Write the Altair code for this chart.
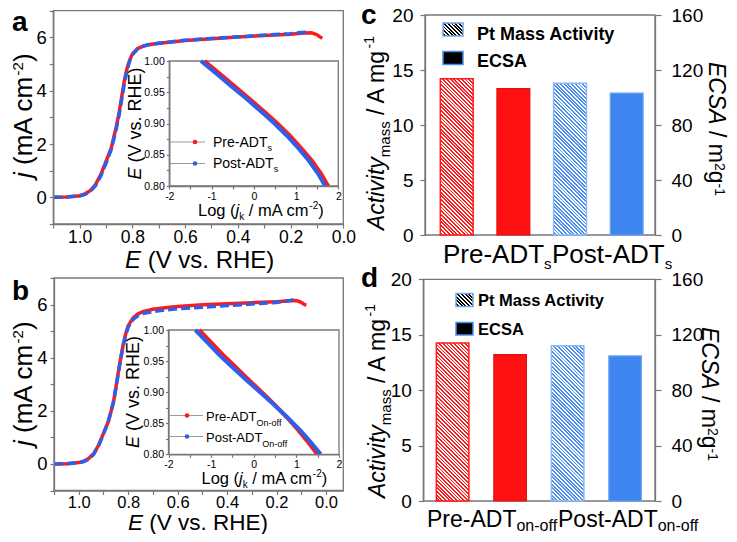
import altair as alt
import pandas as pd

# ---------------- data ----------------
E_A_PRE = [1.10, 1.05, 1.00, 0.98, 0.96, 0.94, 0.92, 0.90, 0.88, 0.86, 0.85, 0.84, 0.83, 0.82, 0.81, 0.80,
           0.78, 0.76, 0.74, 0.70, 0.65, 0.60, 0.50, 0.40, 0.30, 0.20, 0.15, 0.12, 0.10, 0.09, 0.08]
J_A_PRE = [0.00, 0.01, 0.06, 0.13, 0.25, 0.48, 0.85, 1.35, 1.85, 2.70, 3.20, 3.80, 4.40, 4.85, 5.15, 5.38,
           5.58, 5.67, 5.72, 5.78, 5.83, 5.88, 5.95, 6.01, 6.07, 6.12, 6.16, 6.17, 6.10, 6.03, 5.96]
E_A_POST = [1.10, 1.05, 1.00, 0.98, 0.96, 0.94, 0.92, 0.90, 0.88, 0.86, 0.85, 0.84, 0.83, 0.82, 0.81, 0.80,
            0.78, 0.76, 0.74, 0.70, 0.65, 0.60, 0.50, 0.40, 0.30, 0.20, 0.16, 0.13]
J_A_POST = [0.00, 0.01, 0.05, 0.11, 0.22, 0.44, 0.80, 1.28, 1.80, 2.62, 3.12, 3.70, 4.30, 4.78, 5.12, 5.35,
            5.57, 5.66, 5.72, 5.78, 5.84, 5.89, 5.96, 6.02, 6.08, 6.14, 6.18, 6.20]
E_B_PRE = [1.10, 1.05, 1.00, 0.98, 0.96, 0.94, 0.92, 0.90, 0.88, 0.86, 0.85, 0.84, 0.83, 0.82, 0.81, 0.80,
           0.78, 0.76, 0.74, 0.70, 0.65, 0.60, 0.50, 0.40, 0.30, 0.20, 0.15, 0.12, 0.10, 0.09, 0.08]
J_B_PRE = [0.00, 0.01, 0.05, 0.10, 0.20, 0.38, 0.70, 1.15, 1.60, 2.30, 2.85, 3.45, 4.00, 4.50, 4.90, 5.20,
           5.50, 5.65, 5.73, 5.82, 5.88, 5.93, 5.99, 6.03, 6.07, 6.11, 6.14, 6.15, 6.08, 6.02, 5.97]
E_B_POST = [1.10, 1.05, 1.00, 0.98, 0.96, 0.94, 0.92, 0.90, 0.88, 0.86, 0.85, 0.84, 0.83, 0.82, 0.81, 0.80,
            0.78, 0.76, 0.74, 0.70, 0.65, 0.60, 0.50, 0.40, 0.30, 0.20, 0.15, 0.13, 0.12]
J_B_POST = [0.00, 0.01, 0.04, 0.09, 0.18, 0.36, 0.68, 1.12, 1.62, 2.32, 2.85, 3.40, 3.95, 4.45, 4.85, 5.15,
            5.44, 5.58, 5.66, 5.74, 5.80, 5.84, 5.90, 5.96, 6.02, 6.08, 6.14, 6.19, 6.22]

E_K = [1.00, 0.98, 0.96, 0.94, 0.92, 0.90, 0.88, 0.86, 0.84, 0.82, 0.80]
LOG_A_PRE = [-1.17, -0.81, -0.46, -0.11, 0.23, 0.56, 0.86, 1.13, 1.38, 1.59, 1.76]
LOG_A_POST = [-1.25, -0.89, -0.54, -0.18, 0.16, 0.49, 0.79, 1.06, 1.31, 1.52, 1.69]
LOG_B_PRE = [-1.28, -1.00, -0.72, -0.42, -0.12, 0.19, 0.49, 0.77, 1.03, 1.27, 1.49]
LOG_B_POST = [-1.37, -1.09, -0.81, -0.50, -0.18, 0.15, 0.47, 0.78, 1.07, 1.33, 1.57]

CATS = ["Pre-ADT", "Post-ADT"]
ACT_C = [14.2, 13.8]
ECSA_C = [106.4, 103.2]
ACT_D = [14.25, 14.0]
ECSA_D = [105.6, 104.7]

# ---------------- styling / layout ----------------
FONT = "Liberation Sans"
GRAY = "#777777"
RED = "#ff1a1a"
BLUE = "#2f5fe8"
BAR_RED = "#ff1111"
BAR_BLUE = "#3f85f0"
HATCH_BLUE = "#4b8cf0"
W, H = 721, 526


def px(v):
    return round(v - 8, 2)


def py(v):
    return round(v - 8, 2)


def sc(domain, rng):
    return alt.Scale(domain=domain, range=rng, nice=False, zero=False)


def mk_axis(orient, offset, values, expr, fsize, tick, pad):
    return alt.Axis(orient=orient, offset=offset, values=values, labelExpr=expr, title="",
                    tickSize=tick, tickWidth=1.2, tickColor=GRAY, domainColor=GRAY, domainWidth=1.3,
                    labelFont=FONT, labelFontSize=fsize, labelColor="black", labelPadding=pad,
                    labelFlush=False, labelOverlap=False, labelBound=False, grid=False, zindex=1)


def frame(x0, x1, y0, y1, xs, ys, axx, axy, fill=""):
    df = pd.DataFrame({"x0": [x0], "x1": [x1], "y0": [y0], "y1": [y1]})
    mk = dict(stroke=GRAY, strokeWidth=1.3)
    if fill:
        mk["fill"] = fill
    else:
        mk["fillOpacity"] = 0
    return alt.Chart(df).mark_rect(**mk).encode(
        x=alt.X("x0:Q", scale=xs, axis=axx), x2="x1:Q",
        y=alt.Y("y0:Q", scale=ys, axis=axy), y2="y1:Q")


def line(xs_vals, ys_vals, xs, ys, color, width, dash=None):
    df = pd.DataFrame({"x": xs_vals, "y": ys_vals})
    mk = dict(color=color, strokeWidth=width)
    if dash:
        mk["strokeDash"] = dash
    return alt.Chart(df).mark_line(**mk).encode(
        x=alt.X("x:Q", scale=xs, axis=None), y=alt.Y("y:Q", scale=ys, axis=None))


def hatch(w, h, color, bg="white", period=2.6):
    a = w / h
    t = (a + 1) / (a * a + 1)
    n = max(2, int(round((w + h) / 2 ** 0.5 / period)))
    stops = []
    for i in range(n):
        o0, o1, o2 = round(i / n, 5), round((i + 0.5) / n, 5), round((i + 1) / n, 5)
        stops += [{"offset": o0, "color": color}, {"offset": o1, "color": color},
                  {"offset": o1, "color": bg}, {"offset": o2, "color": bg}]
    return {"gradient": "linear", "x1": 1, "y1": 0, "x2": round(1 - a * t, 4), "y2": round(t, 4),
            "stops": stops}


layers = []

# ---------------- panels a and b (line charts with insets) ----------------
E_TICKS = [round(0.1 * i, 1) for i in range(12)]
E_EXPR = "round(datum.value*10) % 2 == 0 ? format(datum.value, '.1f') : ''"
J_EXPR = "datum.value % 2 == 0 ? '' + datum.value : ''"
LX_TICKS = [-2, -1.5, -1, -0.5, 0, 0.5, 1, 1.5, 2]
LX_EXPR = "datum.value % 1 == 0 ? '' + datum.value : ''"
LY_TICKS = [0.8, 0.825, 0.85, 0.875, 0.9, 0.925, 0.95, 0.975, 1.0]
LY_EXPR = "round(datum.value*1000) % 50 == 0 ? format(datum.value, '.2f') : ''"

panels = [
    dict(xpx=(53.3, 343.3), xdom=[0.0, 1.1], ypx=(224, 10.7), ixpx=(169.3, 338.3), iypx=(186, 61), lpad=0,
         lfs=17.5, pre=(E_A_PRE, J_A_PRE), post=(E_A_POST, J_A_POST), kpre=LOG_A_PRE, kpost=LOG_A_POST),
    dict(xpx=(54, 343.3), xdom=[-0.07, 1.1], ypx=(490.5, 278), ixpx=(168.5, 339), iypx=(454.3, 330), lpad=0,
         lfs=16.5, pre=(E_B_PRE, J_B_PRE), post=(E_B_POST, J_B_POST), kpre=LOG_B_PRE, kpost=LOG_B_POST),
]

for p in panels:
    xs = sc(p["xdom"], [px(p["xpx"][1]), px(p["xpx"][0])])
    ys = sc([-1, 7], [py(p["ypx"][0]), py(p["ypx"][1])])
    axx = mk_axis("bottom", py(p["ypx"][0]) - H, E_TICKS, E_EXPR, p["lfs"], 4, p["lpad"])
    axy = mk_axis("left", -px(p["xpx"][0]), list(range(-1, 8)), J_EXPR, 18.5, 4, 3)
    layers.append(frame(p["xdom"][0], p["xdom"][1], -1, 7, xs, ys, axx, axy))
    layers.append(line(p["pre"][0], p["pre"][1], xs, ys, RED, 3.5))
    layers.append(line(p["post"][0], p["post"][1], xs, ys, BLUE, 3.5, [9, 4]))

    ixs = sc([-2, 2], [px(p["ixpx"][0]), px(p["ixpx"][1])])
    iys = sc([0.8, 1.0], [py(p["iypx"][0]), py(p["iypx"][1])])
    iax = mk_axis("bottom", py(p["iypx"][0]) - H, LX_TICKS, LX_EXPR, 10.5, 3, 2)
    iay = mk_axis("left", -px(p["ixpx"][0]), LY_TICKS, LY_EXPR, 10.5, 3, 2)
    layers.append(frame(-2, 2, 0.8, 1.0, ixs, iys, iax, iay, fill="white"))
    layers.append(line(p["kpre"], E_K, ixs, iys, RED, 4))
    layers.append(line(p["kpost"], E_K, ixs, iys, BLUE, 4))

# inset legend lines and dots (pixel positions)
leg_lines = pd.DataFrame({
    "x0": [px(170), px(170), px(170), px(170)],
    "x1": [px(205), px(205), px(203), px(203)],
    "y": [py(142), py(163.5), py(415.5), py(436.5)],
})
leg_dots = pd.DataFrame({
    "x": [px(195), px(195), px(187), px(187)],
    "y": [py(142), py(163.5), py(415.5), py(436.5)],
    "c": [RED, BLUE, RED, BLUE],
})
layers.append(alt.Chart(leg_lines).mark_rule(color="#9a9a9a", strokeWidth=1.2).encode(
    x=alt.X("x0:Q", scale=None, axis=None), x2="x1:Q", y=alt.Y("y:Q", scale=None, axis=None)))
layers.append(alt.Chart(leg_dots).mark_circle(size=22, opacity=1).encode(
    x=alt.X("x:Q", scale=None, axis=None), y=alt.Y("y:Q", scale=None, axis=None),
    color=alt.Color("c:N", scale=None, legend=None)))

# ---------------- panels c and d (bar charts) ----------------
bars = [
    dict(xpx=(425, 655), xdom=[0.44, 4.5], ypx=(235, 15), act=ACT_C, ecsa=ECSA_C, half=0.29),
    dict(xpx=(423.3, 655), xdom=[0.49, 4.52], ypx=(501, 279.3), act=ACT_D, ecsa=ECSA_D, half=0.283),
]
for b in bars:
    xs = sc(b["xdom"], [px(b["xpx"][0]), px(b["xpx"][1])])
    yl = sc([0, 20], [py(b["ypx"][0]), py(b["ypx"][1])])
    yr = sc([0, 160], [py(b["ypx"][0]), py(b["ypx"][1])])
    axl = mk_axis("left", -px(b["xpx"][0]), [0, 5, 10, 15, 20], "datum.label", 19, 5, 7)
    axr = mk_axis("right", px(b["xpx"][1]) - W, [0, 40, 80, 120, 160], "datum.label", 19, 6, 10)
    layers.append(frame(b["xdom"][0], b["xdom"][1], 0, 20, xs, yl, None, axl))
    ppx = (b["xpx"][1] - b["xpx"][0]) / (b["xdom"][1] - b["xdom"][0])
    ppy = (b["ypx"][0] - b["ypx"][1]) / 20.0
    hatch_cols = [(RED, RED), (HATCH_BLUE, "#8ab8f5")]
    for k, cat in enumerate(CATS):
        slot = 1 + 2 * k
        df = pd.DataFrame({"lo": [slot - b["half"]], "hi": [slot + b["half"]], "v": [b["act"][k]], "z": [0]})
        grad = hatch(2 * b["half"] * ppx, b["act"][k] * ppy, hatch_cols[k][0])
        layers.append(alt.Chart(df).mark_rect(fill=grad, stroke=hatch_cols[k][1], strokeWidth=1.5).encode(
            x=alt.X("lo:Q", scale=xs, axis=None), x2="hi:Q",
            y=alt.Y("v:Q", scale=yl, axis=None), y2="z:Q"))
    sdf = pd.DataFrame({"lo": [2 - b["half"], 4 - b["half"]], "hi": [2 + b["half"], 4 + b["half"]],
                        "v": b["ecsa"], "z": [0, 0], "c": [BAR_RED, BAR_BLUE], "s": ["#e01010", "#6aa3f3"]})
    layers.append(alt.Chart(sdf).mark_rect(strokeWidth=1.2).encode(
        x=alt.X("lo:Q", scale=xs, axis=None), x2="hi:Q",
        y=alt.Y("v:Q", scale=yr, axis=axr), y2="z:Q",
        fill=alt.Color("c:N", scale=None, legend=None),
        stroke=alt.Stroke("s:N", scale=None, legend=None)))

# legend swatches for c and d (pixel positions)
sw = [(443, 463, 23, 36, "h"), (443, 463, 51.5, 64.5, "s"),
      (456, 473, 293.5, 306.5, "h"), (456, 473, 322.5, 335, "s")]
for x0, x1, y0, y1, kind in sw:
    df = pd.DataFrame({"x0": [px(x0)], "x1": [px(x1)], "y0": [py(y0)], "y1": [py(y1)]})
    if kind == "h":
        mk = dict(fill=hatch(x1 - x0, y1 - y0, "black", period=2.6), stroke="#6fa8f0", strokeWidth=1.5)
    else:
        mk = dict(fill="black", stroke="#4a8ef0", strokeWidth=1.5)
    layers.append(alt.Chart(df).mark_rect(**mk).encode(
        x=alt.X("x0:Q", scale=None, axis=None), x2="x1:Q",
        y=alt.Y("y0:Q", scale=None, axis=None), y2="y1:Q"))

# ---------------- text (rich text built from segments) ----------------
REG = {' ': 278, '(': 333, ')': 333, '-': 333, '.': 278, '/': 278, 'A': 667, 'C': 722, 'D': 722,
       'E': 667, 'H': 722, 'L': 556, 'M': 833, 'P': 667, 'R': 722, 'S': 667, 'T': 611, 'V': 667,
       'a': 556, 'c': 500, 'e': 556, 'f': 278, 'g': 556, 'i': 222, 'j': 222, 'k': 500, 'm': 833,
       'n': 556, 'o': 556, 'r': 333, 's': 500, 't': 278, 'v': 500, 'y': 500}
BOLD = {' ': 278, 'A': 722, 'C': 722, 'E': 667, 'M': 833, 'P': 667, 'S': 667, 'a': 556, 'c': 556,
        'i': 278, 's': 556, 't': 333, 'v': 556, 'y': 556, 'b': 611, 'd': 611}


def tw(text, size, bold=False):
    tab = BOLD if bold else REG
    return sum(tab.get(ch, 556) for ch in text) / 1000.0 * size


ROWS = []


def rich(x, y, segs, angle=0):
    adv = 0.0
    for seg in segs:
        text, size = seg[0], seg[1]
        shift = seg[2] if len(seg) > 2 else 0
        style = seg[3] if len(seg) > 3 else "normal"
        weight = seg[4] if len(seg) > 4 else "normal"
        bold = weight == "bold"
        lead = len(text) - len(text.lstrip(" "))
        a0 = adv + tw(" " * lead, size, bold)
        if angle == 0:
            X, Y = x + a0, y - shift
        elif angle == 270:
            X, Y = x - shift, y - a0
        else:
            X, Y = x + shift, y + a0
        ROWS.append(dict(x=px(X), y=py(Y), t=text.strip(), s=size, st=style, wt=weight, ang=angle))
        adv += tw(text, size, bold)


# panel letters
rich(12, 31, [("a", 28, 0, "normal", "bold")])
rich(12, 300, [("b", 28, 0, "normal", "bold")])
rich(361, 24, [("c", 28, 0, "normal", "bold")])
rich(361, 287, [("d", 28, 0, "normal", "bold")])

# main axis titles a / b
rich(32, 178, [("j", 26, 0, "italic"), (" (mA cm", 26), ("-2", 15, 9), (")", 26)], 270)
rich(32, 446, [("j", 26, 0, "italic"), (" (mA cm", 26), ("-2", 15, 9), (")", 26)], 270)
rich(125, 267.5, [("E", 24, 0, "italic"), (" (V vs. RHE)", 24)])
rich(128, 530, [("E", 22.5, 0, "italic"), (" (V vs. RHE)", 22.5)])

# inset axis titles
for (x, y) in [(198, 215.5), (201.5, 484)]:
    rich(x, y, [("Log (", 16.5), ("j", 16.5, 0, "italic"), ("k", 10, -4), (" / mA cm", 16.5),
                ("-2", 10, 7), (")", 16.5)])
rich(141, 179.5, [("E", 18, 0, "italic"), (" (V vs. RHE)", 18)], 270)
rich(139, 448, [("E", 18, 0, "italic"), (" (V vs. RHE)", 18)], 270)

# inset legends
rich(213, 147, [("Pre-ADT", 14), ("s", 9, -4)])
rich(213, 168, [("Post-ADT", 14), ("s", 9, -4)])
rich(206, 420.5, [("Pre-ADT", 13), ("On-off", 9, -5)])
rich(206, 441.5, [("Post-ADT", 13), ("On-off", 9, -5)])

# bar legends
rich(477, 39.5, [("Pt Mass Activity", 18, 0, "normal", "bold")])
rich(477, 67, [("ECSA", 18, 0, "normal", "bold")])
rich(478, 306, [("Pt Mass Activity", 16.5, 0, "normal", "bold")])
rich(478, 335, [("ECSA", 16.5, 0, "normal", "bold")])

# bar axis titles
rich(384, 230, [("Activity", 23, 0, "italic"), ("mass", 15, -6), (" / A mg", 23), ("-1", 14, 10)], 270)
rich(385, 498, [("Activity", 23, 0, "italic"), ("mass", 15, -6), (" / A mg", 23), ("-1", 14, 10)], 270)
rich(709, 62, [("ECSA", 23, 0, "italic"), (" / m", 23), ("2", 14, 6), ("g", 23), ("-1", 14, 6)], 90)
rich(702, 327, [("ECSA", 23, 0, "italic"), (" / m", 23), ("2", 14, 6), ("g", 23), ("-1", 14, 6)], 90)

# category labels
rich(443, 263, [(CATS[0], 26), ("s", 15, -6)])
rich(552, 263, [(CATS[1], 26), ("s", 15, -6)])
rich(427, 527, [(CATS[0], 23), ("on-off", 16, -4)])
rich(558, 527, [(CATS[1], 23), ("on-off", 16, -4)])

tdf = pd.DataFrame(ROWS)
for (st, wt, ang), g in tdf.groupby(["st", "wt", "ang"]):
    layers.append(alt.Chart(g.reset_index(drop=True)).mark_text(
        align="left", baseline="alphabetic", font=FONT, fontStyle=str(st), fontWeight=str(wt),
        angle=int(ang), color="black").encode(
        x=alt.X("x:Q", scale=None, axis=None), y=alt.Y("y:Q", scale=None, axis=None),
        text="t:N", size=alt.Size("s:Q", scale=None, legend=None)))

chart = alt.layer(*layers).resolve_scale(x="independent", y="independent").resolve_axis(
    x="independent", y="independent").properties(
    width=W, height=H, padding=0, autosize=alt.AutoSizeParams(type="none"),
    background="white").configure_view(strokeWidth=0)

chart.save("out.html", embed_options={"renderer": "svg", "actions": False})
